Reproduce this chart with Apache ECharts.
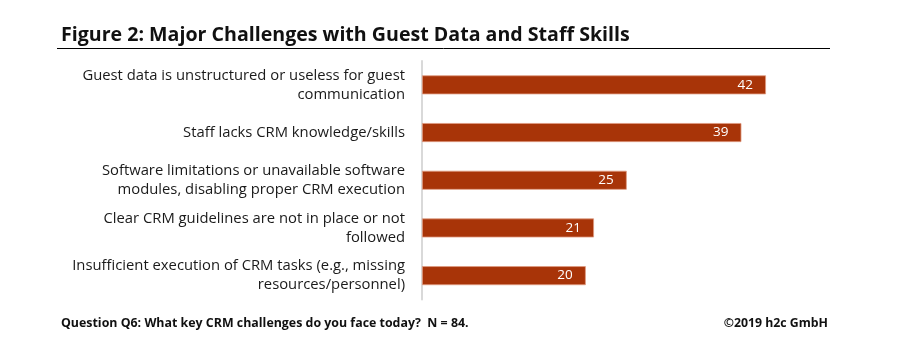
<!DOCTYPE html>
<html>
<head>
<meta charset="utf-8">
<script src="https://cdn.jsdelivr.net/npm/echarts@6/dist/echarts.min.js"></script>
<style>html,body{margin:0;padding:0;background:#fff}#c{width:900px;height:353px}</style>
</head>
<body>
<div id="c"></div>
<script>
const categories = [
  "Guest data is unstructured or useless for guest\ncommunication",
  "Staff lacks CRM knowledge/skills",
  "Software limitations or unavailable software\nmodules, disabling proper CRM execution",
  "Clear CRM guidelines are not in place or not\nfollowed",
  "Insufficient execution of CRM tasks (e.g., missing\nresources/personnel)"
];
const values = [42, 39, 25, 21, 20];
const titleText = "Figure 2: Major Challenges with Guest Data and Staff Skills";
const footLeft = "Question Q6: What key CRM challenges do you face today?  N = 84.";
const footRight = "\u00a92019 h2c GmbH";

const F = "'Open Sans', sans-serif";
const chart = echarts.init(document.getElementById('c'), null, {renderer: 'canvas'});
chart.setOption({
  animation: false,
  backgroundColor: '#fff',
  title: [
    {text: titleText, left: 61, top: 25, padding: 0, textStyle: {fontFamily: F, fontWeight: 'bold', fontSize: 19.6, color: '#111'}},
    {text: footLeft, left: 61, top: 317, padding: 0, textStyle: {fontFamily: F, fontWeight: 'bold', fontSize: 12.4, color: '#111'}},
    {text: footRight, right: 72, top: 317, padding: 0, textStyle: {fontFamily: F, fontWeight: 'bold', fontSize: 12.3, color: '#111'}}
  ],
  graphic: [
    {type: 'line', shape: {x1: 57, y1: 48.5, x2: 830, y2: 48.5}, style: {stroke: '#000', lineWidth: 1}}
  ],
  grid: {left: 422, right: 68.5, top: 61, bottom: 53.5, containLabel: false},
  xAxis: {type: 'value', min: 0, max: 50, show: false, splitLine: {show: false}},
  yAxis: {
    type: 'category', data: categories, inverse: true,
    axisLine: {show: true, lineStyle: {color: '#d9d9d9', width: 2}},
    axisTick: {show: false},
    axisLabel: {margin: 17, fontFamily: F, fontSize: 14.8, color: '#1a1a1a', lineHeight: 19, align: 'right'}
  },
  series: [{
    type: 'bar', data: values, barWidth: 19,
    itemStyle: {color: '#a83408', borderColor: '#e09a80', borderWidth: 0.8},
    label: {show: true, position: 'insideRight', distance: 13, color: '#fff', fontFamily: F, fontSize: 13.5}
  }]
});
</script>
</body>
</html>
